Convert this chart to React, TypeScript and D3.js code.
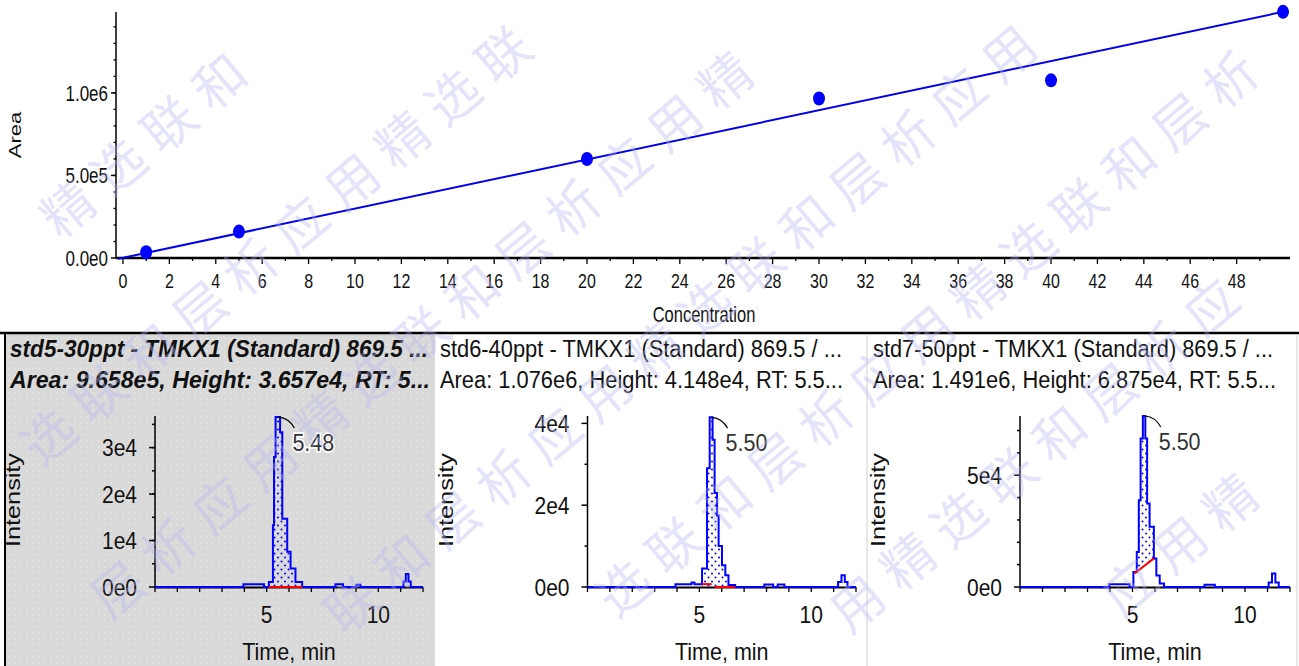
import React from "react";
import * as d3 from "d3";

// calibration curve
const concentrations = [1, 5, 20, 30, 40, 50];
const areas = [3.5e4, 1.6e5, 6.0e5, 9.658e5, 1.076e6, 1.491e6];
const fitSlope = 2.98e4;
const fitIntercept = 1000;
const concTicks = d3.range(0, 49, 2);
const concMinorTicks = d3.range(1, 50, 2);
const areaTicks = [0, 5e5, 1e6];
const areaTickLabels = ["0.0e0", "5.0e5", "1.0e6"];
const areaMinorTicks = d3.range(1e5, 1.45e6, 1e5);

// chromatograms: [time, intensity]
const trace1 = [[0, 0], [3.96, 570], [4.88, 0], [5.1, 1100], [5.28, 13300], [5.33, 28000], [5.4, 36570], [5.6, 33300], [5.7, 14700], [5.92, 7600], [6.07, 4000], [6.29, 1100], [6.59, 0], [8.08, 570], [8.42, 0], [9.02, 500], [9.2, 0], [11.13, 1200], [11.23, 2800], [11.35, 1200], [11.45, 0], [12, 0]];
const trace2 = [[0, 0], [3.93, 700], [4.65, 1100], [4.78, 700], [5.12, 4500], [5.34, 29000], [5.46, 41480], [5.59, 36000], [5.68, 23000], [5.79, 17500], [5.86, 10000], [6.01, 5300], [6.16, 2900], [6.3, 500], [6.6, 0], [7.9, 600], [8.3, 0], [8.5, 600], [8.8, 0], [11.2, 1200], [11.35, 2900], [11.5, 1200], [11.62, 0], [12, 0]];
const trace3 = [[0, 0], [3.97, 1200], [4.87, 0], [5.04, 6700], [5.19, 15700], [5.28, 38800], [5.36, 66400], [5.46, 76500], [5.57, 66400], [5.65, 37400], [5.76, 26900], [5.95, 12800], [6.06, 5200], [6.21, 1600], [6.4, 0], [8.2, 1000], [8.66, 0], [11.05, 2000], [11.2, 6000], [11.35, 2000], [11.5, 0], [12, 0]];

const titles1 = ["std5-30ppt - TMKX1 (Standard) 869.5 ...", "Area: 9.658e5, Height: 3.657e4, RT: 5..."];
const titles2 = ["std6-40ppt - TMKX1 (Standard) 869.5 / ...", "Area: 1.076e6, Height: 4.148e4, RT: 5.5..."];
const titles3 = ["std7-50ppt - TMKX1 (Standard) 869.5 / ...", "Area: 1.491e6, Height: 6.875e4, RT: 5.5..."];
const rtLabels = ["5.48", "5.50", "5.50"];
const rtTimes = [5.48, 5.5, 5.5];

const yTicks1 = [0, 1e4, 2e4, 3e4];
const yLabels1 = ["0e0", "1e4", "2e4", "3e4"];
const yMinor1 = d3.range(5e3, 3.6e4, 5e3);
const yTicks2 = [0, 2e4, 4e4];
const yLabels2 = ["0e0", "2e4", "4e4"];
const yMinor2 = [1e4, 3e4];
const yTicks3 = [0, 5e4];
const yLabels3 = ["0e0", "5e4"];
const yMinor3 = d3.range(1e4, 7.5e4, 1e4);
const yMax = [3.68e4, 4.18e4, 7.65e4];

// integration baselines: [t0, v0, t1, v1]
const baselines1 = [[5.1, 0, 6.59, 0]];
const baselines2 = [[5.12, 700, 5.55, 700], [5.68, 0, 6.6, 0]];
const baselines3 = [[5.09, 6000, 5.95, 12800]];
const fillRange = [[5.1, 6.59, 0, 0], [5.12, 6.6, 0, 0], [5.09, 5.95, 6000, 12800]];

const timeTicks = [5, 10];
const timeMinor = d3.range(0, 13, 1);

const watermark = "联和层析应用精选";

const FONT = "'Liberation Sans', Arial, sans-serif";

const T = ({ x, y, size, sy = 1, anchor = "start", rot = 0, children, ...rest }: any) => (
  <text
    transform={`translate(${x},${y}) scale(1,${sy})${rot ? ` rotate(${rot})` : ""}`}
    fontSize={size}
    fontFamily={FONT}
    textAnchor={anchor}
    {...rest}
  >
    {children}
  </text>
);

const stepPoints = (trace: number[][], t0: number, t1: number) => {
  const pts: number[][] = [];
  for (let i = 0; i < trace.length - 1; i++) {
    const a = Math.max(trace[i][0], t0);
    const b = Math.min(trace[i + 1][0], t1);
    if (b > a) pts.push([a, trace[i][1]], [b, trace[i][1]]);
  }
  return pts;
};

const Chromatogram = ({ left, x0, x1, trace, ymax, yTicks, yLabels, yMinor, titles, bold, baselines, fill, rtLabel, rt, textLens }: any) => {
  const x = d3.scaleLinear().domain([0, 12]).range([x0, x1]);
  const y = d3.scaleLinear().domain([0, ymax]).range([587, 416]);
  const line = d3.line<number[]>().x((d) => x(d[0])).y((d) => y(d[1])).curve(d3.curveStepAfter);
  const [f0, f1, b0, b1] = fill;
  const base = (t: number) => b0 + ((t - f0) / (f1 - f0)) * (b1 - b0);
  const area = d3.area<number[]>().x((d) => x(d[0])).y1((d) => y(d[1])).y0((d) => y(base(d[0])));
  const apex = trace.reduce((m: number[], d: number[]) => (d[1] > m[1] ? d : m), [0, 0]);
  const ax = x(rt);
  const ay = y(apex[1]);
  return (
    <g>
      {titles.map((s: string, i: number) => (
        <T key={i} x={left} y={357 + i * 31} size={21} sy={1.12} textLength={textLens[i]} lengthAdjust="spacingAndGlyphs"
          fontWeight={bold ? "bold" : "normal"} fontStyle={bold ? "italic" : "normal"} fill="#111">{s}</T>
      ))}
      <path d={area(stepPoints(trace, f0, f1)) || ""} fill="url(#dots)" />
      {/* y axis */}
      <line x1={x0} x2={x0} y1={416} y2={588} stroke="#000" strokeWidth={1.5} />
      {yTicks.map((v: number, i: number) => (
        <g key={i}>
          <line x1={x0 - 6} x2={x0} y1={y(v)} y2={y(v)} stroke="#000" strokeWidth={1.5} />
          <T x={x0 - 18} y={y(v) + 8.5} size={21} sy={1.1} anchor="end" fill="#111">{yLabels[i]}</T>
        </g>
      ))}
      {yMinor.map((v: number) => (
        <line key={v} x1={x0 - 3} x2={x0} y1={y(v)} y2={y(v)} stroke="#000" strokeWidth={1.5} />
      ))}
      {/* x axis */}
      <line x1={x0} x2={x1} y1={587.5} y2={587.5} stroke="#000" strokeWidth={2} />
      {timeMinor.map((t: number) => (
        <line key={t} x1={x(t)} x2={x(t)} y1={587} y2={592} stroke="#000" strokeWidth={1.3} />
      ))}
      {timeTicks.map((t: number) => (
        <T key={t} x={x(t)} y={623} size={21} sy={1.12} anchor="middle" fill="#111">{t}</T>
      ))}
      <path d={line(trace) || ""} fill="none" stroke="#0000ff" strokeWidth={2} />
      {baselines.map((b: number[], i: number) => (
        <line key={i} x1={x(b[0])} x2={x(b[2])} y1={y(b[1])} y2={y(b[3])} stroke="#ff0000" strokeWidth={2} />
      ))}
      <path d={`M${ax + 1},${ay} Q${ax + 12},${ay + 1} ${ax + 17},${ay + 11}`} fill="none" stroke="#000" strokeWidth={1.2} />
      <T x={ax + 15} y={ay + 34} size={21.5} sy={1.12} fill="#333" stroke="#fff" strokeWidth={3} paintOrder="stroke">{rtLabel}</T>
      <T x={x0 - 135} y={500} size={21} sy={1.2} rot={-90} anchor="middle" fill="#111">Intensity</T>
      <T x={(x0 + x1) / 2} y={660} size={21.5} sy={1.1} anchor="middle" fill="#111">Time, min</T>
    </g>
  );
};

// watermark glyphs, kept only where a whole glyph fits on the page
const watermarkGlyphs = () => {
  const a = (-40 * Math.PI) / 180;
  const out: { x: number; y: number; ch: string }[] = [];
  for (let r = -4; r <= 6; r++) {
    const shift = ((r * 285) % 512 + 512) % 512 - 1024;
    for (let k = 0; k < 48; k++) {
      const u = shift + k * 66;
      const v = r * 162;
      const cx = 75 + u * Math.cos(a) - v * Math.sin(a);
      const cy = 415 + u * Math.sin(a) + v * Math.cos(a);
      if (cx < 42 || cx > 1257 || cy < 42 || cy > 624) continue;
      out.push({ x: cx, y: cy, ch: watermark[((k % 8) + 8) % 8] });
    }
  }
  return out;
};

export default function App() {
  const x = d3.scaleLinear().domain([-0.3, 50.3]).range([116, 1290]);
  const y = d3.scaleLinear().domain([0, 1.49e6]).range([258, 12]);
  const fitLine = d3.line<number>().x((c) => x(c)).y((c) => y(fitSlope * c + fitIntercept));
  const glyphs = watermarkGlyphs();

  return (
    <svg width={1299} height={666} style={{ position: "absolute", left: 0, top: 0, background: "#fff" }}>
      <defs>
        <pattern id="dots" width={7} height={8} patternUnits="userSpaceOnUse">
          <circle cx={1.5} cy={1.5} r={1} fill="#0000ff" />
          <circle cx={5} cy={5.5} r={1} fill="#0000ff" />
        </pattern>
        <pattern id="grayDots" width={6} height={6} patternUnits="userSpaceOnUse">
          <rect width={6} height={6} fill="#d9d9d9" />
          <rect x={2} y={2} width={1.5} height={1.5} fill="#e6e6e6" />
        </pattern>
      </defs>

      {/* calibration plot */}
      <line x1={116} x2={116} y1={12} y2={258} stroke="#000" strokeWidth={1.5} />
      <line x1={116} x2={1290} y1={258} y2={258} stroke="#000" strokeWidth={2.5} />
      {areaTicks.map((v, i) => (
        <g key={v}>
          <line x1={111} x2={116} y1={y(v)} y2={y(v)} stroke="#000" strokeWidth={1.5} />
          <T x={108} y={y(v) + 8} size={17} sy={1.35} anchor="end" fill="#111">{areaTickLabels[i]}</T>
        </g>
      ))}
      {areaMinorTicks.map((v) => (
        <line key={v} x1={113.5} x2={116} y1={y(v)} y2={y(v)} stroke="#000" strokeWidth={1.3} />
      ))}
      {concTicks.map((c) => (
        <g key={c}>
          <line x1={x(c)} x2={x(c)} y1={258} y2={264} stroke="#000" strokeWidth={1.3} />
          <T x={x(c)} y={288} size={16} sy={1.3} anchor="middle" fill="#111">{c}</T>
        </g>
      ))}
      {concMinorTicks.map((c) => (
        <line key={c} x1={x(c)} x2={x(c)} y1={258} y2={261} stroke="#000" strokeWidth={1.3} />
      ))}
      <path d={fitLine([-0.2, 50]) || ""} fill="none" stroke="#0000ee" strokeWidth={2} />
      {concentrations.map((c, i) => (
        <ellipse key={c} cx={x(c)} cy={y(areas[i])} rx={6} ry={7} fill="#0000ff" />
      ))}
      <T x={15} y={135} size={17} sy={1.3} rot={-90} anchor="middle" dy="0.35em" fill="#111">Area</T>
      <T x={704} y={322} size={16.5} sy={1.35} anchor="middle" fill="#111">Concentration</T>

      {/* chromatogram panels */}
      <rect x={5} y={333} width={430} height={333} fill="url(#grayDots)" />
      <line x1={0} x2={1299} y1={333} y2={333} stroke="#000" strokeWidth={2.5} />
      <line x1={5} x2={5} y1={333} y2={666} stroke="#000" strokeWidth={2} />
      <line x1={867} x2={867} y1={334} y2={666} stroke="#d0d0d0" strokeWidth={1} />
      <line x1={1297} x2={1297} y1={334} y2={666} stroke="#d0d0d0" strokeWidth={1} />

      <Chromatogram left={10} x0={155} x1={423} trace={trace1} ymax={yMax[0]} yTicks={yTicks1} yLabels={yLabels1} yMinor={yMinor1}
        titles={titles1} bold baselines={baselines1} fill={fillRange[0]} rtLabel={rtLabels[0]} rt={rtTimes[0]} textLens={[418, 420]} />
      <Chromatogram left={440} x0={587.5} x1={856} trace={trace2} ymax={yMax[1]} yTicks={yTicks2} yLabels={yLabels2} yMinor={yMinor2}
        titles={titles2} baselines={baselines2} fill={fillRange[1]} rtLabel={rtLabels[1]} rt={rtTimes[1]} textLens={[402, 403]} />
      <Chromatogram left={873} x0={1020} x1={1290} trace={trace3} ymax={yMax[2]} yTicks={yTicks3} yLabels={yLabels3} yMinor={yMinor3}
        titles={titles3} baselines={baselines3} fill={fillRange[2]} rtLabel={rtLabels[2]} rt={rtTimes[2]} textLens={[400, 403]} />

      {/* watermark */}
      <g pointerEvents="none">
        {glyphs.map((g, i) => (
          <text key={i} transform={`translate(${g.x},${g.y}) rotate(-40)`} textAnchor="middle" dy="0.36em" fontSize={52}
            fontFamily="'Noto Sans CJK SC', sans-serif" fill="#b4b4f0" opacity={0.36}>
            {g.ch}
          </text>
        ))}
      </g>
    </svg>
  );
}
